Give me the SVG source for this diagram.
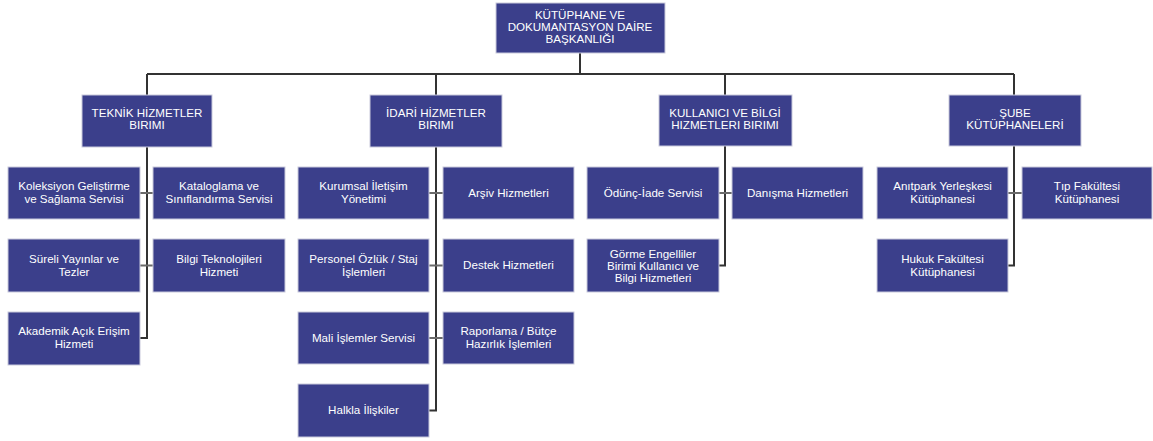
<svg xmlns="http://www.w3.org/2000/svg" width="1153" height="441" viewBox="0 0 1153 441">
<style>
.n rect{fill:#3b3f8b;stroke:#c9cadc;stroke-width:1}
.n text{fill:#ffffff;font-family:"Liberation Sans",Arial,sans-serif;font-size:11.6px;text-anchor:middle}
.c path{fill:none;stroke:#333333;stroke-width:2}
.c path.s{stroke:#6a6a6a}
</style>
<rect width="1153" height="441" fill="#ffffff"/>
<g class="c" id="connectors">
<path d="M580,53 V74 M147,74 H1014 M147,74 V95 M436,74 V95 M725,74 V95 M1014,74 V95"/>
<path d="M147,147 V338 H140"/>
<path class="s" d="M140,193 H153 M140,265.5 H153"/>
<path d="M436,147 V410.5 H429"/>
<path class="s" d="M429,193 H443 M429,265.5 H443 M429,338 H443"/>
<path d="M725,146 V265.5 H719"/>
<path class="s" d="M719,193 H732"/>
<path d="M1014,146 V265.5 H1008"/>
<path class="s" d="M1008,193 H1022"/>
</g>
<g class="n" id="root"><rect x="496" y="3" width="169" height="50"/><text x="580" y="19">KÜTÜPHANE VE</text><text x="580" y="31">DOKUMANTASYON DAİRE</text><text x="580" y="43">BAŞKANLIĞI</text></g>
<g class="n" id="teknik"><rect x="82" y="95" width="130" height="52"/><text x="147" y="117">TEKNİK HİZMETLER</text><text x="147" y="129">BIRIMI</text></g>
<g class="n" id="idari"><rect x="370" y="95" width="132" height="52"/><text x="436" y="117">İDARİ HİZMETLER</text><text x="436" y="129">BIRIMI</text></g>
<g class="n" id="kullanici"><rect x="659" y="95" width="133" height="51"/><text x="725" y="117">KULLANICI VE BİLGİ</text><text x="725" y="129">HIZMETLERI BIRIMI</text></g>
<g class="n" id="sube"><rect x="949" y="95" width="132" height="51"/><text x="1015" y="117">ŞUBE</text><text x="1015" y="129">KÜTÜPHANELERİ</text></g>

<g class="n" id="koleksiyon"><rect x="8" y="167" width="132" height="52"/><text x="74" y="190">Koleksiyon Geliştirme</text><text x="74" y="203">ve Sağlama Servisi</text></g>
<g class="n" id="kataloglama"><rect x="153" y="167" width="132" height="52"/><text x="219" y="190">Kataloglama ve</text><text x="219" y="203">Sınıflandırma Servisi</text></g>
<g class="n" id="sureli"><rect x="8" y="239" width="132" height="53"/><text x="74" y="263">Süreli Yayınlar ve</text><text x="74" y="276">Tezler</text></g>
<g class="n" id="bilgitek"><rect x="153" y="239" width="132" height="53"/><text x="219" y="263">Bilgi Teknolojileri</text><text x="219" y="276">Hizmeti</text></g>
<g class="n" id="akademik"><rect x="8" y="312" width="132" height="53"/><text x="74" y="335">Akademik Açık Erişim</text><text x="74" y="348">Hizmeti</text></g>

<g class="n" id="kurumsal"><rect x="298" y="167" width="131" height="52"/><text x="363.5" y="190">Kurumsal İletişim</text><text x="363.5" y="203">Yönetimi</text></g>
<g class="n" id="arsiv"><rect x="443" y="167" width="131" height="52"/><text x="508.5" y="197">Arşiv Hizmetleri</text></g>
<g class="n" id="personel"><rect x="298" y="239" width="131" height="53"/><text x="363.5" y="263">Personel Özlük / Staj</text><text x="363.5" y="276">İşlemleri</text></g>
<g class="n" id="destek"><rect x="443" y="239" width="131" height="53"/><text x="508.5" y="269">Destek Hizmetleri</text></g>
<g class="n" id="mali"><rect x="298" y="312" width="131" height="52"/><text x="363.5" y="342">Mali İşlemler Servisi</text></g>
<g class="n" id="raporlama"><rect x="443" y="312" width="131" height="52"/><text x="508.5" y="335">Raporlama / Bütçe</text><text x="508.5" y="348">Hazırlık İşlemleri</text></g>
<g class="n" id="halkla"><rect x="298" y="384" width="131" height="53"/><text x="363.5" y="414">Halkla İlişkiler</text></g>

<g class="n" id="odunc"><rect x="587" y="167" width="132" height="52"/><text x="653" y="197">Ödünç-İade Servisi</text></g>
<g class="n" id="danisma"><rect x="732" y="167" width="131" height="52"/><text x="797.5" y="197">Danışma Hizmetleri</text></g>
<g class="n" id="gorme"><rect x="587" y="239" width="132" height="53"/><text x="653" y="258">Görme Engelliler</text><text x="653" y="270">Birimi Kullanıcı ve</text><text x="653" y="282">Bilgi Hizmetleri</text></g>

<g class="n" id="anitpark"><rect x="877" y="167" width="131" height="52"/><text x="942.5" y="190">Anıtpark Yerleşkesi</text><text x="942.5" y="203">Kütüphanesi</text></g>
<g class="n" id="tip"><rect x="1022" y="167" width="130" height="52"/><text x="1087" y="190">Tıp Fakültesi</text><text x="1087" y="203">Kütüphanesi</text></g>
<g class="n" id="hukuk"><rect x="877" y="239" width="131" height="53"/><text x="942.5" y="263">Hukuk Fakültesi</text><text x="942.5" y="276">Kütüphanesi</text></g>
</svg>
